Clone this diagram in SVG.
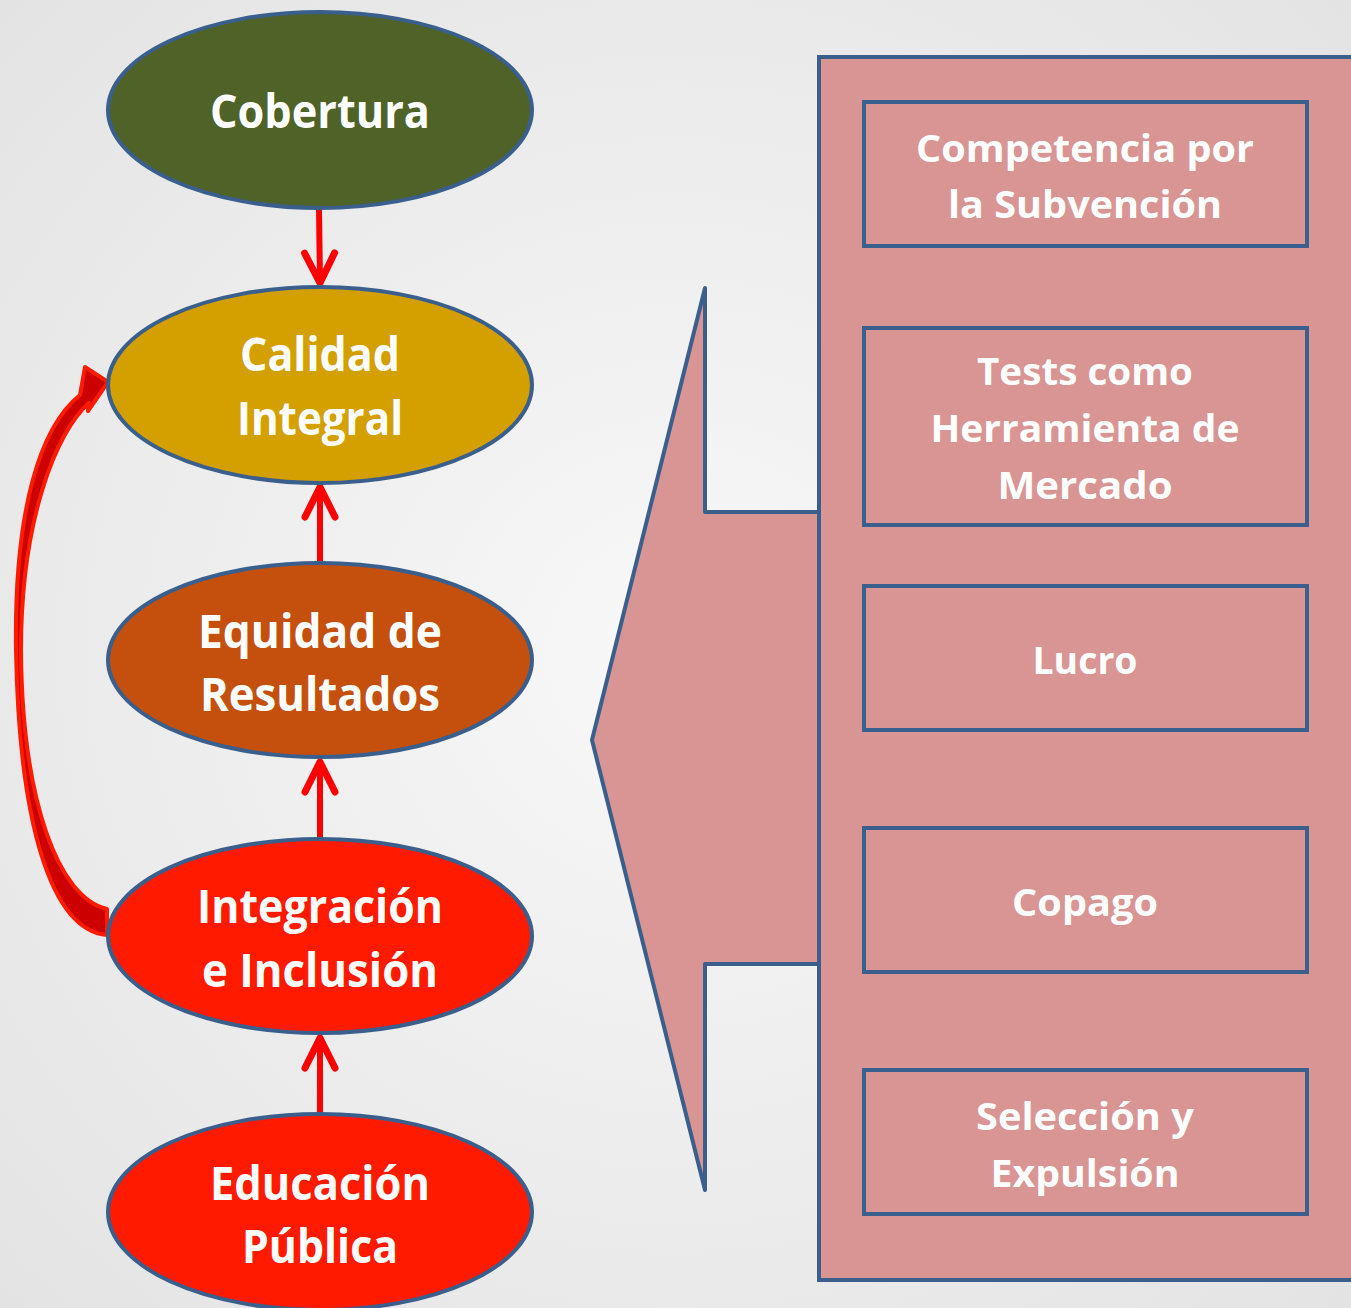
<svg xmlns="http://www.w3.org/2000/svg" width="1351" height="1308" viewBox="0 0 1351 1308">
<defs>
<radialGradient id="bg" cx="0.5" cy="0.5" r="0.75">
<stop offset="0" stop-color="#f8f8f8"/>
<stop offset="1" stop-color="#e2e2e2"/>
</radialGradient>
<marker id="chev" viewBox="0 0 44 44" refX="38" refY="22" markerWidth="44" markerHeight="44" orient="auto" markerUnits="userSpaceOnUse">
<path d="M8 7 L38 22 L8 37" fill="none" stroke="#ff0000" stroke-width="7" stroke-linecap="round" stroke-linejoin="round"/>
</marker>
<style>
.ell{stroke:#3a5f8d;stroke-width:4}
.box{fill:#d99594;stroke:#3a5f8d;stroke-width:4}
.t{font-family:"Open Sans","Noto Sans","Liberation Sans",sans-serif;font-weight:bold;fill:#ffffff;text-anchor:middle}
.te{font-size:46px}
.tb{font-size:38px}
.arr{stroke:#ff0000;stroke-width:6;fill:none}
</style>
</defs>
<rect x="0" y="0" width="1351" height="1308" fill="url(#bg)"/>

<g id="panel">
<rect class="box" x="819" y="57" width="540" height="1223"/>
<polygon class="box" points="819,512 705,512 705,288 592,740 705,1190 705,964 819,964" stroke-linejoin="round"/>
<line x1="819" y1="508" x2="819" y2="968" stroke="#3a5f8d" stroke-width="4"/>
</g>

<g id="connectors">
<line class="arr" x1="319" y1="208" x2="320" y2="283" marker-end="url(#chev)"/>
<line class="arr" x1="320" y1="563" x2="320" y2="487" marker-end="url(#chev)"/>
<line class="arr" x1="320" y1="838" x2="320" y2="762" marker-end="url(#chev)"/>
<line class="arr" x1="320" y1="1114" x2="320" y2="1038" marker-end="url(#chev)"/>
<path id="curved" d="M107 935 C 50 930, 19 820, 16 650 C 14 510, 40 427, 80 395 L 85 367 L 108 382 L 88 411 L 89 403 C 56 432, 21 520, 21 650 C 22 800, 58 898, 107 909 Z" fill="#cc0000" stroke="#ff1a00" stroke-width="4" stroke-linejoin="round"/>
</g>

<g id="n-cobertura">
<ellipse class="ell" cx="320" cy="110" rx="212" ry="98" fill="#4f6228"/>
<text class="t te" x="320" y="128" textLength="220" lengthAdjust="spacingAndGlyphs">Cobertura</text>
</g>
<g id="n-calidad">
<ellipse class="ell" cx="320" cy="385" rx="212" ry="98" fill="#d4a000"/>
<text class="t te" x="320" y="371" textLength="160" lengthAdjust="spacingAndGlyphs">Calidad</text>
<text class="t te" x="320" y="435" textLength="166" lengthAdjust="spacingAndGlyphs">Integral</text>
</g>
<g id="n-equidad">
<ellipse class="ell" cx="320" cy="660" rx="212" ry="97" fill="#c5500e"/>
<text class="t te" x="320" y="648" textLength="244" lengthAdjust="spacingAndGlyphs">Equidad de</text>
<text class="t te" x="320" y="711" textLength="240" lengthAdjust="spacingAndGlyphs">Resultados</text>
</g>
<g id="n-integracion">
<ellipse class="ell" cx="320" cy="936" rx="212" ry="97" fill="#ff1a00"/>
<text class="t te" x="320" y="923" textLength="246" lengthAdjust="spacingAndGlyphs">Integración</text>
<text class="t te" x="320" y="987" textLength="236" lengthAdjust="spacingAndGlyphs">e Inclusión</text>
</g>
<g id="n-educacion">
<ellipse class="ell" cx="320" cy="1212" rx="212" ry="98" fill="#ff1a00"/>
<text class="t te" x="320" y="1200" textLength="220" lengthAdjust="spacingAndGlyphs">Educación</text>
<text class="t te" x="320" y="1263" textLength="156" lengthAdjust="spacingAndGlyphs">Pública</text>
</g>

<g id="b-competencia">
<rect class="box" x="864" y="102" width="443" height="144"/>
<text class="t tb" x="1085" y="162" textLength="338" lengthAdjust="spacingAndGlyphs">Competencia por</text>
<text class="t tb" x="1085" y="218" textLength="274" lengthAdjust="spacingAndGlyphs">la Subvención</text>
</g>
<g id="b-tests">
<rect class="box" x="864" y="328" width="443" height="197"/>
<text class="t tb" x="1085" y="385" textLength="216" lengthAdjust="spacingAndGlyphs">Tests como</text>
<text class="t tb" x="1085" y="442" textLength="309" lengthAdjust="spacingAndGlyphs">Herramienta de</text>
<text class="t tb" x="1085" y="499" textLength="175" lengthAdjust="spacingAndGlyphs">Mercado</text>
</g>
<g id="b-lucro">
<rect class="box" x="864" y="586" width="443" height="144"/>
<text class="t tb" x="1085" y="674" textLength="105" lengthAdjust="spacingAndGlyphs">Lucro</text>
</g>
<g id="b-copago">
<rect class="box" x="864" y="828" width="443" height="144"/>
<text class="t tb" x="1085" y="916" textLength="146" lengthAdjust="spacingAndGlyphs">Copago</text>
</g>
<g id="b-seleccion">
<rect class="box" x="864" y="1070" width="443" height="144"/>
<text class="t tb" x="1085" y="1130" textLength="218" lengthAdjust="spacingAndGlyphs">Selección y</text>
<text class="t tb" x="1085" y="1187" textLength="189" lengthAdjust="spacingAndGlyphs">Expulsión</text>
</g>
</svg>
